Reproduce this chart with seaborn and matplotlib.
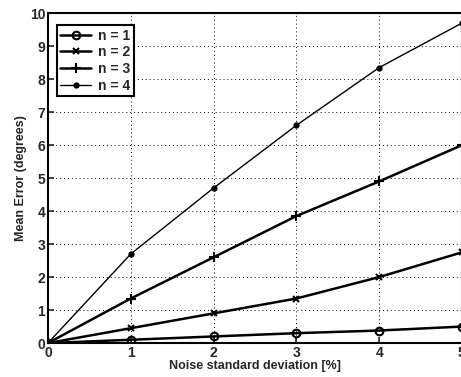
import matplotlib
matplotlib.use("Agg")
import matplotlib.pyplot as plt
import seaborn as sns
import pandas as pd

noise = [0, 1, 2, 3, 4, 5]
err_n1 = [0.0, 0.10, 0.20, 0.30, 0.38, 0.50]
err_n2 = [0.0, 0.45, 0.90, 1.35, 2.00, 2.75]
err_n3 = [0.0, 1.35, 2.60, 3.85, 4.90, 6.00]
err_n4 = [0.0, 2.70, 4.70, 6.60, 8.35, 9.70]
labels = ["n = 1", "n = 2", "n = 3", "n = 4"]
x_ticks = [0, 1, 2, 3, 4, 5]
y_ticks = [0, 1, 2, 3, 4, 5, 6, 7, 8, 9, 10]

sns.set_style("ticks")
plt.rcParams["font.family"] = ["Liberation Sans", "DejaVu Sans"]
plt.rcParams["font.weight"] = "bold"

fig = plt.figure(figsize=(4.61, 3.77), dpi=100)
ax = fig.add_axes([0.104, 0.09, 0.898, 0.875])

series = [err_n1, err_n2, err_n3, err_n4]
markers = ["o", "x", "+", "."]
widths = [1.8, 1.8, 1.8, 1.0]
msizes = [5.5, 4, 7, 6]
for lab, ys, mk, lw, ms in zip(labels, series, markers, widths, msizes):
    df = pd.DataFrame({"x": noise, "y": ys})
    sns.lineplot(data=df, x="x", y="y", ax=ax, color="black", linewidth=lw,
                 marker=mk, markersize=ms, markerfacecolor="none" if mk == "o" else "black",
                 markeredgecolor="black", markeredgewidth=1.5, label=lab)

ax.set_xlim(0, 5)
ax.set_ylim(0, 10)
ax.set_xticks(x_ticks)
ax.set_yticks(y_ticks)
ax.tick_params(direction="in", length=4, width=1.2, labelsize=10, pad=2)
for t in ax.get_xticklabels() + ax.get_yticklabels():
    t.set_fontweight("bold")
ax.grid(True, linestyle=(0, (1, 3)), color="black", linewidth=0.7)
for s in ax.spines.values():
    s.set_linewidth(1.5)
    s.set_color("black")
ax.set_xlabel("Noise standard deviation [%]", fontsize=9, fontweight="bold", labelpad=0)
ax.set_ylabel("Mean Error (degrees)", fontsize=9, fontweight="bold", labelpad=2)
leg = ax.legend(loc="upper left", fancybox=False, framealpha=1, edgecolor="black",
                fontsize=10, handlelength=2.2, borderpad=0.25, labelspacing=0.2,
                handletextpad=0.5, bbox_to_anchor=(0.005, 0.985))
leg.get_frame().set_linewidth(1.5)
for t in leg.get_texts():
    t.set_fontweight("bold")

fig.savefig("out.png", dpi=100)
